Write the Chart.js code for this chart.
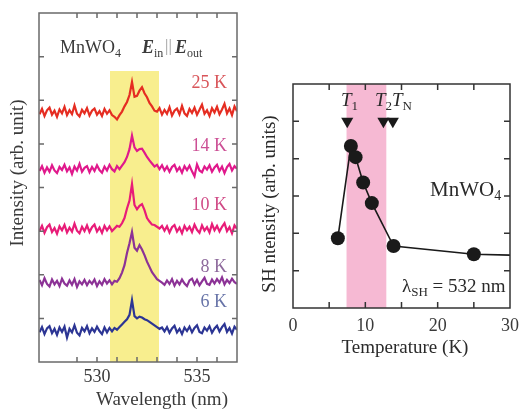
<!DOCTYPE html>
<html>
<head>
<meta charset="utf-8">
<script src="https://cdn.jsdelivr.net/npm/chart.js@4.4.1/dist/chart.umd.min.js"></script>
<style>
  body { margin: 0; background: #fff; width: 526px; height: 410px; position: relative; overflow: hidden; }
  canvas { position: absolute; top: 0; }
  #spec { left: 0; }
  #shg { left: 250px; }
</style>
</head>
<body>
<canvas id="spec" width="250" height="410"></canvas>
<canvas id="shg" width="276" height="410"></canvas>
<script>
// ---- left panel: SH spectra (offset for clarity) ----
const wavelength = [
  527.125, 527.25, 527.375, 527.5, 527.625, 527.75, 527.875, 528, 528.125, 528.25,
  528.375, 528.5, 528.625, 528.75, 528.875, 529, 529.125, 529.25, 529.375, 529.5,
  529.625, 529.75, 529.875, 530, 530.125, 530.25, 530.375, 530.5, 530.625, 530.75,
  530.875, 531, 531.125, 531.25, 531.375, 531.5, 531.625, 531.75, 531.875, 532,
  532.125, 532.25, 532.375, 532.5, 532.625, 532.75, 532.875, 533, 533.125, 533.25,
  533.375, 533.5, 533.625, 533.75, 533.875, 534, 534.125, 534.25, 534.375, 534.5,
  534.625, 534.75, 534.875, 535, 535.125, 535.25, 535.375, 535.5, 535.625, 535.75,
  535.875, 536, 536.125, 536.25, 536.375, 536.5, 536.625, 536.75, 536.875, 537
];
const spec25K = [
  5.68, 5.80, 5.64, 5.77, 5.83, 5.67, 5.76, 5.62, 5.79, 5.70,
  5.85, 5.66, 5.77, 5.68, 5.88, 5.69, 5.63, 5.78, 5.70, 5.82,
  5.65, 5.76, 5.81, 5.67, 5.75, 5.64, 5.80, 5.69, 5.77, 5.66,
  5.62, 5.56, 5.66, 5.74, 5.86, 5.96, 6.12, 6.42, 6.08, 6.10,
  6.22, 6.30, 6.16, 6.07, 5.94, 5.86, 5.76, 5.74, 5.82, 5.67,
  5.78, 5.69, 5.84, 5.65, 5.76, 5.81, 5.68, 5.87, 5.70, 5.64,
  5.80, 5.71, 5.83, 5.67, 5.78, 5.90, 5.69, 5.77, 5.64, 5.82,
  5.72, 5.85, 5.68, 5.79, 5.92, 5.70, 5.81, 5.66, 5.86, 5.75
];
const spec14K = [
  4.38, 4.49, 4.34, 4.46, 4.36, 4.51, 4.39, 4.33, 4.47, 4.40,
  4.52, 4.37, 4.46, 4.31, 4.48, 4.39, 4.54, 4.36, 4.45, 4.49,
  4.35, 4.47, 4.38, 4.51, 4.40, 4.34, 4.48, 4.39, 4.52, 4.42,
  4.37, 4.49, 4.42, 4.50, 4.58, 4.70, 4.88, 5.19, 4.92, 4.84,
  4.88, 4.89, 4.80, 4.70, 4.62, 4.55, 4.48, 4.52, 4.42, 4.51,
  4.39, 4.48, 4.36, 4.47, 4.52, 4.38, 4.46, 4.34, 4.49, 4.40,
  4.50, 4.37, 4.26, 4.53, 4.39, 4.35, 4.48, 4.41, 4.51, 4.36,
  4.46, 4.52, 4.38, 4.48, 4.33, 4.47, 4.54, 4.39, 4.49, 4.43
];
const spec10K = [
  3.00, 3.12, 2.96, 3.09, 3.15, 2.98, 3.07, 2.94, 3.11, 3.02,
  3.14, 2.97, 3.08, 2.99, 3.17, 3.01, 2.95, 3.10, 3.00, 3.13,
  2.98, 3.09, 3.15, 2.99, 3.08, 2.96, 3.12, 3.02, 3.11, 3.00,
  3.06, 3.12, 3.10, 3.18, 3.30, 3.52, 3.70, 4.08, 3.60, 3.50,
  3.58, 3.62, 3.48, 3.30, 3.22, 3.15, 3.14, 3.10, 3.06, 3.12,
  3.01, 3.11, 2.97, 3.09, 3.14, 2.99, 3.08, 2.95, 3.12, 3.02,
  3.10, 2.98, 3.15, 3.03, 2.96, 3.13, 3.01, 3.09, 2.97, 3.16,
  3.02, 3.12, 2.99, 3.10, 3.18, 3.00, 3.09, 2.95, 3.13, 3.05
];
const spec8K = [
  1.88, 1.76, 1.92, 1.79, 1.73, 1.89, 1.78, 1.86, 1.74, 1.91,
  1.80, 1.75, 1.87, 1.77, 1.90, 1.72, 1.85, 1.78, 1.88, 1.76,
  1.86, 1.79, 1.89, 1.74, 1.85, 1.77, 1.90, 1.80, 1.87, 1.78,
  1.86, 1.84, 1.92, 2.05, 2.22, 2.50, 2.72, 2.98, 2.62, 2.55,
  2.68, 2.58, 2.45, 2.30, 2.18, 2.06, 1.98, 1.90, 1.86, 1.82,
  1.77, 1.87, 1.79, 1.90, 1.75, 1.86, 1.78, 1.89, 1.80, 1.74,
  1.87, 1.91, 1.78, 1.88, 1.76, 1.85, 1.93, 1.79, 1.77, 1.89,
  1.80, 1.90, 1.82, 1.94, 1.78, 1.88, 1.81, 1.91, 1.83, 1.79
];
const spec6K = [
  0.68, 0.80, 0.64, 0.77, 0.82, 0.66, 0.76, 0.62, 0.79, 0.69,
  0.81, 0.56, 0.76, 0.68, 0.84, 0.67, 0.61, 0.78, 0.70, 0.82,
  0.66, 0.77, 0.69, 0.81, 0.71, 0.64, 0.79, 0.68, 0.78, 0.70,
  0.78, 0.74, 0.80, 0.86, 0.92, 0.98, 1.08, 1.42, 1.05, 1.00,
  1.04, 1.02, 0.98, 0.96, 0.92, 0.88, 0.84, 0.80, 0.76, 0.79,
  0.70, 0.80, 0.67, 0.77, 0.83, 0.68, 0.76, 0.64, 0.79, 0.71,
  0.81, 0.68, 0.78, 0.84, 0.69, 0.66, 0.79, 0.72, 0.82, 0.67,
  0.77, 0.83, 0.70, 0.80, 0.87, 0.69, 0.78, 0.65, 0.81, 0.74
];
const specLabels = ["25 K", "14 K", "10 K", "8 K", "6 K"];
const specLabelY = [6.4, 4.95, 3.6, 2.18, 1.38];
const yellowBand = [530.65, 533.1];
const yellowTop = 6.67;

// ---- right panel: SH intensity vs temperature ----
const temperature = [6.2, 8.0, 8.65, 9.7, 10.9, 13.9, 25, 33];
const shIntensity = [1.87, 4.34, 4.04, 3.36, 2.81, 1.66, 1.44, 1.40];
const transitionT = [7.5, 12.5, 13.8];
const transitionY = [5.0, 5.0, 5.0];
const pinkBand = [7.4, 12.9];

const SERIF = '"Liberation Serif", "Times New Roman", serif';

function fontStr(size, style) {
  let s = '';
  if (style && style.includes('i')) s += 'italic ';
  if (style && style.includes('b')) s += 'bold ';
  return s + size + 'px ' + SERIF;
}

// parts: [text, style, isSub]
function richText(ctx, x, y, parts, size, color, align) {
  ctx.save();
  ctx.fillStyle = color;
  ctx.textBaseline = 'middle';
  ctx.textAlign = 'left';
  let total = 0;
  const widths = parts.map(([t, st, sub]) => {
    ctx.font = fontStr(sub ? Math.round(size * 0.68) : size, st);
    const w = ctx.measureText(t).width;
    total += w;
    return w;
  });
  let cx = align === 'center' ? x - total / 2 : align === 'right' ? x - total : x;
  parts.forEach(([t, st, sub], i) => {
    ctx.font = fontStr(sub ? Math.round(size * 0.68) : size, st);
    ctx.fillText(t, cx, sub ? y + size * 0.3 : y);
    cx += widths[i];
  });
  ctx.restore();
}

function rotatedText(ctx, x, y, text, size, color) {
  ctx.save();
  ctx.translate(x, y);
  ctx.rotate(-Math.PI / 2);
  ctx.font = fontStr(size, '');
  ctx.fillStyle = color;
  ctx.textAlign = 'center';
  ctx.textBaseline = 'middle';
  ctx.fillText(text, 0, 0);
  ctx.restore();
}

function nearInt(v) {
  return Math.abs(v - Math.round(v)) < 1e-6;
}

// band behind the data, boxed frame with inward ticks on top, plus annotation text
function makeFramePlugin(cfg) {
  return {
    id: 'frame',
    beforeDatasetsDraw(chart) {
      const { ctx, chartArea: a, scales: { x, y } } = chart;
      const x0 = x.getPixelForValue(cfg.band[0]);
      const x1 = x.getPixelForValue(cfg.band[1]);
      const y0 = cfg.bandTop != null ? y.getPixelForValue(cfg.bandTop) : a.top;
      ctx.save();
      ctx.fillStyle = cfg.bandColor;
      ctx.fillRect(x0, y0, x1 - x0, a.bottom - y0);
      ctx.restore();
    },
    afterDraw(chart) {
      const { ctx, chartArea: a, scales: { x, y } } = chart;
      ctx.save();
      ctx.strokeStyle = cfg.frameColor;
      ctx.lineWidth = 1.5;
      ctx.strokeRect(a.left, a.top, a.right - a.left, a.bottom - a.top);
      ctx.beginPath();
      x.ticks.forEach((t) => {
        if (!nearInt(t.value / cfg.xStep) || t.value <= x.min || t.value >= x.max) return;
        const px = x.getPixelForValue(t.value);
        ctx.moveTo(px, a.bottom); ctx.lineTo(px, a.bottom - cfg.tickLen);
        ctx.moveTo(px, a.top); ctx.lineTo(px, a.top + cfg.tickLen);
      });
      y.ticks.forEach((t) => {
        if (!nearInt(t.value) || t.value <= y.min || t.value >= y.max) return;
        const py = y.getPixelForValue(t.value);
        ctx.moveTo(a.left, py); ctx.lineTo(a.left + cfg.tickLen, py);
        ctx.moveTo(a.right, py); ctx.lineTo(a.right - cfg.tickLen, py);
      });
      ctx.stroke();
      ctx.restore();
      cfg.annotate(chart);
    }
  };
}

const specSeries = [
  { label: specLabels[0], data: spec25K, color: "#e52d22", text: "#d9555a" },
  { label: specLabels[1], data: spec14K, color: "#e0198c", text: "#cc4f95" },
  { label: specLabels[2], data: spec10K, color: "#e81c78", text: "#d04a86" },
  { label: specLabels[3], data: spec8K, color: "#8c3296", text: "#8e6a9c" },
  { label: specLabels[4], data: spec6K, color: "#2c3594", text: "#6874a8" },
];

let specChart = new Chart(document.getElementById("spec").getContext("2d"), {
  type: "line",
  data: {
    datasets: specSeries.map((s) => ({
      label: s.label,
      data: wavelength.map((w, i) => ({ x: w, y: s.data[i] })),
      borderColor: s.color,
      borderWidth: 2.2,
      pointRadius: 0,
      tension: 0,
    })),
  },
  options: {
    responsive: false,
    animation: false,
    layout: { padding: { top: 13, right: 13, left: 0, bottom: 0 } },
    scales: {
      x: {
        type: "linear",
        min: 527.1,
        max: 537,
        grid: { display: false, drawTicks: false },
        border: { display: false },
        ticks: {
          stepSize: 1,
          padding: 4,
          autoSkip: false,
          maxRotation: 0,
          color: "#3a3a3a",
          font: { family: SERIF, size: 18 },
          callback: (v) => (nearInt(v / 5) ? String(Math.round(v)) : ""),
        },
        afterFit: (s) => { s.height = 48; },
      },
      y: {
        min: 0,
        max: 8,
        grid: { display: false, drawTicks: false },
        border: { display: false },
        ticks: { display: false, stepSize: 1 },
        afterFit: (s) => { s.width = 39; },
      },
    },
    plugins: { legend: { display: false }, tooltip: { enabled: false } },
  },
  plugins: [
    makeFramePlugin({
      band: yellowBand,
      bandTop: yellowTop,
      bandColor: "#f8ee8e",
      frameColor: "#6a6a6a",
      tickLen: 5,
      xStep: 1,
      annotate(chart) {
        const { ctx, scales: { y } } = chart;
        specSeries.forEach((s, i) => {
          richText(ctx, 227, y.getPixelForValue(specLabelY[i]), [[s.label, "", false]], 18, s.text, "right");
        });
        richText(ctx, 60, 48, [["MnWO", "", false], ["4", "", true]], 18, "#3a3a3a", "left");
        richText(ctx, 142, 48, [
          ["E", "bi", false], ["in", "", true], [" ", "", false],
        ], 18, "#3a3a3a", "left");
        richText(ctx, 165, 47, [["||", "", false]], 17, "#9a9a9a", "left");
        richText(ctx, 175, 48, [["E", "bi", false], ["out", "", true]], 18, "#3a3a3a", "left");
        rotatedText(ctx, 18, 173, "Intensity (arb. unit)", 19, "#3a3a3a");
        richText(ctx, 162, 400, [["Wavelength (nm)", "", false]], 19, "#3a3a3a", "center");
      },
    }),
  ],
});

let shgChart = new Chart(document.getElementById("shg").getContext("2d"), {
  type: "line",
  data: {
    datasets: [
      {
        label: "SH intensity",
        data: temperature.map((t, i) => ({ x: t, y: shIntensity[i] })),
        borderColor: "#1a1a1a",
        backgroundColor: "#1a1a1a",
        borderWidth: 1.6,
        pointRadius: 7,
        pointBorderWidth: 0,
        tension: 0,
      },
      {
        type: "scatter",
        label: "transitions",
        data: transitionT.map((t, i) => ({ x: t, y: transitionY[i] })),
        backgroundColor: "#1a1a1a",
        borderColor: "#1a1a1a",
        pointStyle: "triangle",
        rotation: 180,
        pointRadius: 7,
        pointBorderWidth: 0,
      },
    ],
  },
  options: {
    responsive: false,
    animation: false,
    layout: { padding: { top: 84, right: 9, left: 0, bottom: 0 } },
    scales: {
      x: {
        type: "linear",
        min: 0,
        max: 30,
        grid: { display: false, drawTicks: false },
        border: { display: false },
        ticks: {
          stepSize: 5,
          padding: 7,
          autoSkip: false,
          maxRotation: 0,
          color: "#3a3a3a",
          font: { family: SERIF, size: 18 },
          callback: (v) => (nearInt(v / 10) ? String(Math.round(v)) : ""),
        },
        afterFit: (s) => { s.height = 102; },
      },
      y: {
        min: 0,
        max: 6,
        grid: { display: false, drawTicks: false },
        border: { display: false },
        ticks: { display: false, stepSize: 1 },
        afterFit: (s) => { s.width = 43; },
      },
    },
    plugins: { legend: { display: false }, tooltip: { enabled: false } },
  },
  plugins: [
    makeFramePlugin({
      band: pinkBand,
      bandTop: null,
      bandColor: "#f6b9d3",
      frameColor: "#333333",
      tickLen: 6,
      xStep: 5,
      annotate(chart) {
        const { ctx } = chart;
        const c = "#2a2a2a";
        richText(ctx, 91, 101, [["T", "i", false], ["1", "", true]], 19, c, "left");
        richText(ctx, 125, 101, [["T", "i", false], ["2", "", true]], 19, c, "left");
        richText(ctx, 142, 101, [["T", "i", false], ["N", "", true]], 19, c, "left");
        richText(ctx, 180, 190, [["MnWO", "", false], ["4", "", true]], 21, c, "left");
        richText(ctx, 152, 287, [["λ", "", false], ["SH", "", true], [" = 532 nm", "", false]], 19, c, "left");
        rotatedText(ctx, 20, 204, "SH ntensity (arb. units)", 19, c);
        richText(ctx, 155, 348, [["Temperature (K)", "", false]], 19, c, "center");
      },
    }),
  ],
});
</script>
</body>
</html>
